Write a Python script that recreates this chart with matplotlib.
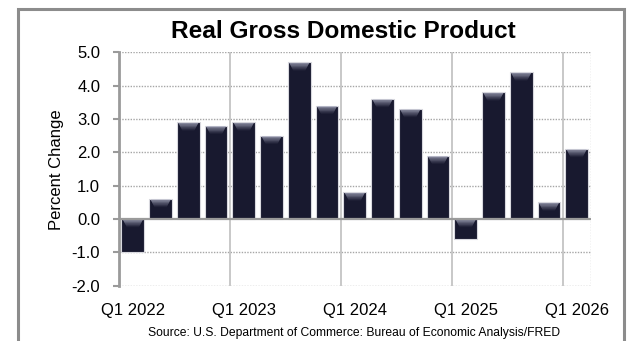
import matplotlib
matplotlib.use("Agg")
import matplotlib.pyplot as plt
from matplotlib import font_manager
from matplotlib.patches import Polygon, Rectangle
import numpy as np

quarters = ["Q1 2022", "Q2 2022", "Q3 2022", "Q4 2022",
            "Q1 2023", "Q2 2023", "Q3 2023", "Q4 2023",
            "Q1 2024", "Q2 2024", "Q3 2024", "Q4 2024",
            "Q1 2025", "Q2 2025", "Q3 2025", "Q4 2025",
            "Q1 2026"]
values = [-1.0, 0.6, 2.9, 2.8, 2.9, 2.5, 4.7, 3.4,
          0.8, 3.6, 3.3, 1.9, -0.6, 3.8, 4.4, 0.5, 2.1]
yticks = [-2.0, -1.0, 0.0, 1.0, 2.0, 3.0, 4.0, 5.0]
title = "Real Gross Domestic Product"
ylabel = "Percent Change"
source = "Source: U.S. Department of Commerce: Bureau of Economic Analysis/FRED"

names = {f.name for f in font_manager.fontManager.ttflist}
base = "Liberation Sans" if "Liberation Sans" in names else "DejaVu Sans"
narrow = "Liberation Sans Narrow" if "Liberation Sans Narrow" in names else base
title_size = 21 if narrow != base else 17.6
plt.rcParams["font.family"] = [base, "DejaVu Sans"]

W, H = 634, 341
fig = plt.figure(figsize=(W / 100, H / 100), dpi=100)
fig.patch.set_facecolor("white")

# outer frame
fig.patches.append(Rectangle((18 / W, -0.1), (624 - 18) / W, 1.1 - 9 / H,
                             transform=fig.transFigure, fill=False,
                             edgecolor="#8c8c8c", linewidth=2.2, zorder=0))

ax = fig.add_axes([119 / W, 1 - 285.7 / H, (590.5 - 119) / W, (285.7 - 52.3) / H])
n = len(values)
x = np.arange(n)
ax.set_xlim(-0.5, n - 0.5)
ax.set_ylim(min(yticks), max(yticks))

# gridlines
for yv in yticks:
    if yv != 0:
        ax.axhline(yv, color="#a6a6a6", linewidth=1.0, linestyle=(0, (1, 1)), zorder=1)
for i, q in enumerate(quarters):
    if q.startswith("Q1") and i > 0:
        ax.axvline(i - 0.5, color="#c4c4c4", linewidth=1.3, zorder=1)
ax.axvline(n - 0.5, color="#c4c4c4", linewidth=1.0, linestyle=(0, (1, 1)), zorder=1)

bar_color = "#18192f"
bw = 0.82
bars = ax.bar(x, values, width=bw, color=bar_color, edgecolor="#d8d8de",
              linewidth=0.8, zorder=3)

# bevel highlight at the top of each bar
ppu = (285.7 - 52.3) / (max(yticks) - min(yticks))
bh = 7.5 / ppu
light = np.array(matplotlib.colors.to_rgb("#a3a5ba"))
dark = np.array(matplotlib.colors.to_rgb(bar_color))
nsl = 10
for b in bars:
    x0 = b.get_x() + 0.05
    x1 = b.get_x() + b.get_width() - 0.05
    top = max(b.get_y(), b.get_y() + b.get_height())
    inset = 0.2 * (x1 - x0)
    for k in range(nsl):
        t0 = k / nsl
        t1 = (k + 1) / nsl
        y0 = top - 0.02 - bh * t0
        y1 = top - 0.02 - bh * t1
        poly = [(x0 + inset * t0, y0), (x1 - inset * t0, y0),
                (x1 - inset * t1, y1), (x0 + inset * t1, y1)]
        w = (1 - t0) ** 1.1
        c = light * w + dark * (1 - w)
        ax.add_patch(Polygon(poly, closed=True, facecolor=c, edgecolor="none", zorder=4))

ax.axhline(0, color="#9a9a9a", linewidth=1.6, zorder=5)

for s in ["top", "right", "bottom"]:
    ax.spines[s].set_visible(False)
ax.spines["left"].set_color("#9a9a9a")
ax.spines["left"].set_linewidth(2.0)
ax.spines["left"].set_zorder(6)

ax.set_yticks(yticks)
ax.set_yticklabels([f"{v:.1f}" for v in yticks], fontsize=12)
ax.tick_params(axis="y", length=4.5, width=1.5, color="#9a9a9a", pad=9)

lab_idx = [i for i, q in enumerate(quarters) if q.startswith("Q1")]
ax.set_xticks(lab_idx)
ax.set_xticklabels([quarters[i] for i in lab_idx], fontsize=12)
ax.tick_params(axis="x", length=0, pad=12.5)

fig.text(343.5 / W, 1 - 32 / H, title, ha="center", va="center",
         fontsize=title_size, fontweight="bold", family=[narrow, "DejaVu Sans"])
fig.text(57 / W, 1 - 169.5 / H, ylabel, ha="center", va="center",
         rotation=90, fontsize=12)
fig.text(354.5 / W, 1 - 333 / H, source, ha="center", va="center",
         fontsize=8.7, family=[narrow, "DejaVu Sans"])

fig.savefig("out.png", dpi=100)
